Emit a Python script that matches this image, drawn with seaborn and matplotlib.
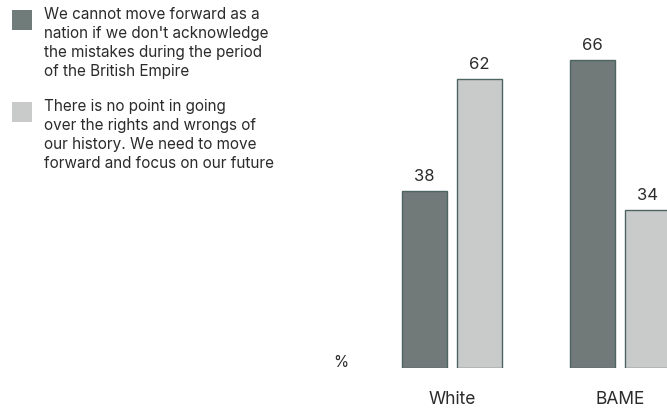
import matplotlib
matplotlib.use("Agg")
import matplotlib.pyplot as plt
import seaborn as sns
import pandas as pd
from matplotlib.patches import Rectangle

groups = ["White", "BAME"]
series = [
    "We cannot move forward as a\nnation if we don't acknowledge\nthe mistakes during the period\nof the British Empire",
    "There is no point in going\nover the rights and wrongs of\nour history. We need to move\nforward and focus on our future",
]
values_acknowledge = [38, 66]
values_move_on = [62, 34]
colors = ["#6f7c7a", "#c9cbca"]
edge = "#4d6461"
text_color = "#2b2b2b"

df = pd.DataFrame({
    "group": groups * 2,
    "series": [series[0]] * 2 + [series[1]] * 2,
    "value": values_acknowledge + values_move_on,
})

sns.set_style("white")
plt.rcParams["font.family"] = ["Inter", "DejaVu Sans"]

W, H = 667, 411
fig = plt.figure(figsize=(W / 100, H / 100), dpi=100)
base_px = 368
ax = fig.add_axes([0, 1 - base_px / H, 1, base_px / H])

sns.barplot(data=df, x="group", y="value", hue="series", palette=colors,
            width=0.66, gap=0.18, edgecolor=edge, linewidth=1.0,
            legend=False, ax=ax)

# scale: px = 452 + 168*d
ax.set_xlim((0 - 452) / 168, (W - 452) / 168)
ax.set_ylim(0, base_px / 4.66)
for s in ax.spines.values():
    s.set_visible(False)
ax.set_yticks([])
ax.set_xlabel("")
ax.set_ylabel("")
ax.tick_params(axis="x", length=0, pad=16.5, labelsize=12.5, labelcolor=text_color)

for c in ax.containers:
    ax.bar_label(c, fmt="%d", padding=5, fontsize=12, color=text_color)

fig.text(341 / W, 1 - 362 / H, "%", ha="center", va="center", fontsize=11, color=text_color)

# legend
leg_y = [10, 102]
for i, (lab, col) in enumerate(zip(series, colors)):
    y = leg_y[i]
    fig.patches.append(Rectangle((12 / W, 1 - (y + 20) / H), 20 / W, 20 / H,
                                 transform=fig.transFigure, facecolor=col,
                                 edgecolor="none"))
    fig.text(44 / W, 1 - (y - 3) / H, lab, ha="left", va="top", fontsize=11.0,
             color=text_color, linespacing=1.33)

fig.savefig("out.png", dpi=100)
